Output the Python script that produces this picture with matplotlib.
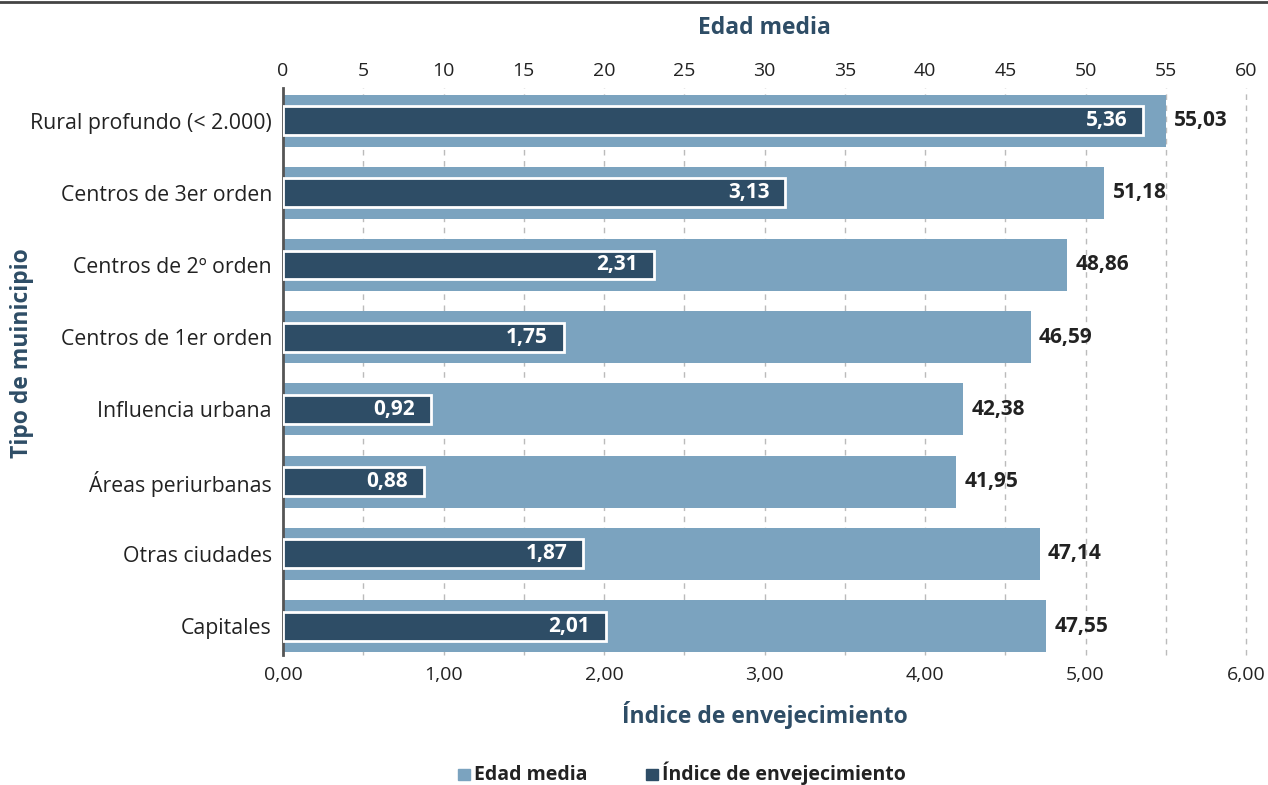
import matplotlib.pyplot as plt
import matplotlib.patches as mpatches
from matplotlib.lines import Line2D

# datos
categorias = ["Rural profundo (< 2.000)", "Centros de 3er orden", "Centros de 2º orden",
              "Centros de 1er orden", "Influencia urbana", "Áreas periurbanas",
              "Otras ciudades", "Capitales"]
edad_media = [55.03, 51.18, 48.86, 46.59, 42.38, 41.95, 47.14, 47.55]
indice_env = [5.36, 3.13, 2.31, 1.75, 0.92, 0.88, 1.87, 2.01]
ticks_edad = [0, 5, 10, 15, 20, 25, 30, 35, 40, 45, 50, 55, 60]
ticks_indice = [0, 1, 2, 3, 4, 5, 6]

c_claro = "#7ba3bf"
c_oscuro = "#2e4d66"
c_texto = "#222222"

plt.rcParams['font.family'] = ['Open Sans', 'DejaVu Sans']

fig = plt.figure(figsize=(12.68, 7.85), dpi=100)
ax = fig.add_axes([283 / 1268, 1 - 655 / 785, (1246 - 283) / 1268, (655 - 88) / 785])

y = list(range(len(categorias)))

# barras de edad media (eje superior)
ax.barh(y, edad_media, height=0.72, color=c_claro, zorder=2)
ax.set_xlim(0, 60)
ax.set_ylim(len(categorias) - 0.6, -0.45)
ax.set_yticks(y)
ax.set_yticklabels(categorias)
ax.tick_params(axis='y', length=0, labelsize=15.3, colors=c_texto, pad=8)
ax.set_axisbelow(True)
for s in ['top', 'right', 'bottom']:
    ax.spines[s].set_visible(False)
ax.spines['left'].set_color('#555555')
ax.spines['left'].set_linewidth(2)
ax.spines['left'].set_zorder(5)

fig.text(22 / 1268, 1 - 353 / 785, "Tipo de muinicipio", rotation=90, ha='center', va='center',
         fontsize=16.5, fontweight='bold', color=c_oscuro)

for yi, v in zip(y, edad_media):
    ax.text(v + 0.5, yi, f"{v:.2f}".replace('.', ','), va='center', ha='left',
            fontsize=15, fontweight='bold', color=c_texto)

# barras del índice (eje inferior)
ax2 = ax.twiny()
ax2.barh(y, indice_env, height=0.4, color=c_oscuro, edgecolor='white', linewidth=2, zorder=3)
ax2.set_xlim(0, 6)
ax2.set_xticks(ticks_indice)
ax2.set_xticklabels([f"{t:.2f}".replace('.', ',') for t in ticks_indice])
ax2.xaxis.set_ticks_position('bottom')
ax2.xaxis.set_label_position('bottom')
ax2.tick_params(axis='x', length=0, labelsize=14, colors=c_texto, pad=8)
ax2.set_xlabel("Índice de envejecimiento", fontsize=16.5, fontweight='bold', color=c_oscuro, labelpad=12)
for s in ax2.spines.values():
    s.set_visible(False)

# eje superior (después de twiny)
ax.set_xticks(ticks_edad)
ax.xaxis.set_ticks_position('top')
ax.xaxis.set_label_position('top')
ax.tick_params(axis='x', length=0, labelsize=14, colors=c_texto, pad=6)
ax.set_xlabel("Edad media", fontsize=16.5, fontweight='bold', color=c_oscuro, labelpad=20)
ax.grid(axis='x', linestyle=(0, (4, 4)), color='#bbbbbb', linewidth=1, zorder=0)
for gl in ax.xaxis.get_gridlines():
    gl.set_clip_on(False)

for yi, v in zip(y, indice_env):
    ax2.text(v - 0.1, yi, f"{v:.2f}".replace('.', ','), va='center', ha='right',
             fontsize=15, fontweight='bold', color='white', zorder=4)

# leyenda
handles = [mpatches.Patch(color=c_claro, label="Edad media"),
           mpatches.Patch(color=c_oscuro, label="Índice de envejecimiento")]
leg = fig.legend(handles=handles, loc='center', bbox_to_anchor=(0.538, 1 - 773 / 785), ncol=2,
                 frameon=False, handlelength=0.85, handleheight=0.85, handletextpad=0.3,
                 columnspacing=4.2)
for t in leg.get_texts():
    t.set_fontweight('bold')
    t.set_fontsize(14)
    t.set_color(c_texto)

# línea superior
fig.add_artist(Line2D([0, 1], [0.998, 0.998], color='#444444', linewidth=2, transform=fig.transFigure))

fig.savefig("out.png", dpi=100)
